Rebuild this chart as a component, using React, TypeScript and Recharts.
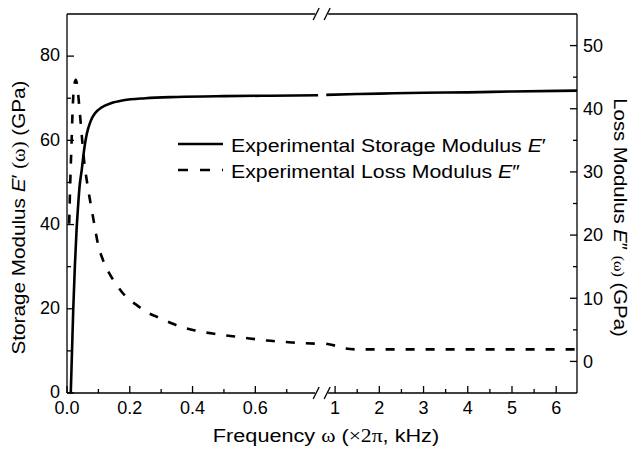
import { CartesianGrid, Customized, Line, LineChart, XAxis, YAxis } from 'recharts'

// Storage modulus E' (left axis, GPa), split at the axis break
const storageLeftFreq = [0.012, 0.016, 0.02, 0.025, 0.03, 0.035, 0.04, 0.047, 0.055, 0.063, 0.075, 0.09, 0.11, 0.14, 0.18, 0.25, 0.35, 0.5, 0.65, 0.8]
const storageLeftValue = [0, 10, 20, 30, 38, 44, 49, 53, 58, 61.5, 64.5, 66.5, 67.8, 68.8, 69.5, 70.0, 70.3, 70.5, 70.6, 70.7]
const storageRightFreq = [0.8, 1.5, 2, 3, 4, 5, 6.47]
const storageRightValue = [70.8, 71.0, 71.1, 71.3, 71.4, 71.6, 71.8]

// Loss modulus E'' (right axis, GPa)
const lossLeftFreq = [0.007, 0.0096, 0.012, 0.0145, 0.017, 0.02, 0.024, 0.028, 0.033, 0.038, 0.046, 0.054, 0.065, 0.077, 0.086, 0.099, 0.115, 0.134, 0.16, 0.185, 0.22, 0.258, 0.3, 0.335, 0.408, 0.48, 0.557, 0.637, 0.717, 0.8]
const lossLeftValue = [21.8, 27, 31, 34.5, 38.5, 42, 44, 44.6, 43.5, 41, 36.4, 32, 28, 24.5, 22, 18.5, 16, 14, 12, 10.4, 9, 7.7, 6.8, 6.0, 4.9, 4.3, 3.8, 3.3, 3.0, 2.8]
const lossRightFreq = [0.8, 1.0, 1.2, 1.5, 2, 3, 4, 5, 6.47]
const lossRightValue = [2.8, 2.5, 2.1, 1.9, 1.9, 1.9, 1.9, 1.9, 1.9]

// Tick values
const freqMajorLeft = [0, 0.2, 0.4, 0.6]
const freqMinorLeft = [0.1, 0.3, 0.5, 0.7]
const freqMajorRight = [1, 2, 3, 4, 5, 6]
const freqMinorRight = [1.5, 2.5, 3.5, 4.5, 5.5]
const storageTicks = [0, 20, 40, 60, 80]
const storageMinor = [10, 30, 50, 70]
const lossTicks = [0, 10, 20, 30, 40, 50]
const lossMinor = [5, 15, 25, 35, 45]

// broken frequency axis: left part linear 0..0.8, right part compressed
const BREAK_FREQ = 0.8
const BREAK_GAP = 0.026
const RIGHT_SCALE = 0.1409
const toAxis = (f: number, side: 'left' | 'right') =>
  side === 'left' ? f : BREAK_FREQ + BREAK_GAP + (f - BREAK_FREQ) * RIGHT_SCALE
const U_MAX = toAxis(6.47, 'right')

const build = (freq: number[], vals: number[], side: 'left' | 'right') =>
  freq.map((f, i) => ({ u: toAxis(f, side), v: vals[i] }))

const storageLeft = build(storageLeftFreq, storageLeftValue, 'left')
const storageRight = build(storageRightFreq, storageRightValue, 'right')
const lossLeft = build(lossLeftFreq, lossLeftValue, 'left')
const lossRight = build(lossRightFreq, lossRightValue, 'right')

const xTicks = [
  ...freqMajorLeft.map(f => ({ u: toAxis(f, 'left'), label: f.toFixed(1), major: true })),
  ...freqMinorLeft.map(f => ({ u: toAxis(f, 'left'), label: '', major: false })),
  ...freqMajorRight.map(f => ({ u: toAxis(f, 'right'), label: String(f), major: true })),
  ...freqMinorRight.map(f => ({ u: toAxis(f, 'right'), label: '', major: false })),
]

const W = 631
const H = 450
const PL = 67
const PR = 577
const PT = 14
const PB = 393
const FONT = "'Liberation Sans', Arial, sans-serif"
const SERIF = "'Liberation Serif', 'Times New Roman', serif"

const XTick = ({ x, y, payload }: any) => {
  const t = xTicks.find(t => Math.abs(t.u - payload.value) < 1e-6)
  if (!t) return null
  return (
    <g>
      <line x1={x} x2={x} y1={y} y2={y - (t.major ? 7 : 4)} stroke="#000" strokeWidth={1.3} />
      {t.major && (
        <text x={x} y={y + 21} textAnchor="middle" fontSize={18} fontFamily={FONT} fill="#000">
          {t.label}
        </text>
      )}
    </g>
  )
}

const LeftTick = ({ x, y, payload }: any) => {
  const major = storageTicks.includes(payload.value)
  return (
    <g>
      <line x1={x} x2={x + (major ? 7 : 4)} y1={y} y2={y} stroke="#000" strokeWidth={1.3} />
      {major && (
        <text x={x - 7} y={y - 1} dy="0.35em" textAnchor="end" fontSize={18} fontFamily={FONT} fill="#000">
          {payload.value}
        </text>
      )}
    </g>
  )
}

const RightTick = ({ x, y, payload }: any) => {
  const major = lossTicks.includes(payload.value)
  return (
    <g>
      <line x1={x} x2={x - (major ? 7 : 4)} y1={y} y2={y} stroke="#000" strokeWidth={1.3} />
      {major && (
        <text x={x + 6} y={y} dy="0.35em" textAnchor="start" fontSize={18} fontFamily={FONT} fill="#000">
          {payload.value}
        </text>
      )}
    </g>
  )
}

// frame with axis break marks, legend and axis titles
const Overlay = () => {
  const c = PL + (BREAK_FREQ + BREAK_GAP / 2) * ((PR - PL) / U_MAX)
  const breakMarks = (y: number) => (
    <g stroke="#000" strokeWidth={1.3}>
      <line x1={PL} x2={c - 7} y1={y} y2={y} />
      <line x1={c + 6} x2={PR} y1={y} y2={y} />
      <line x1={c - 9} y1={y + 6} x2={c - 3} y2={y - 6} />
      <line x1={c + 2} y1={y + 6} x2={c + 8} y2={y - 6} />
    </g>
  )
  return (
    <g>
      {breakMarks(PT)}
      {breakMarks(PB)}
      <line x1={178} x2={223} y1={144} y2={144} stroke="#000" strokeWidth={2.6} />
      <line x1={178} x2={223} y1={170} y2={170} stroke="#000" strokeWidth={2.6} strokeDasharray="10 12" />
      <text transform="translate(231,151.5) scale(1.12,1)" fontSize={19} fontFamily={FONT} fill="#000">
        Experimental Storage Modulus <tspan fontStyle="italic">E</tspan>′
      </text>
      <text transform="translate(231,178) scale(1.12,1)" fontSize={19} fontFamily={FONT} fill="#000">
        Experimental Loss Modulus <tspan fontStyle="italic">E</tspan>″
      </text>
      <text transform="translate(326,442) scale(1.14,1)" textAnchor="middle" fontSize={19} fontFamily={FONT} fill="#000">
        Frequency <tspan fontFamily={SERIF}>ω</tspan> (<tspan fontFamily={SERIF}>×2π</tspan>, kHz)
      </text>
      <text transform="translate(25,217.5) rotate(-90) scale(1.09,1)" textAnchor="middle" fontSize={19} fontFamily={FONT} fill="#000">
        Storage Modulus <tspan fontStyle="italic">E</tspan>′ <tspan fontFamily={SERIF}>(ω)</tspan> (GPa)
      </text>
      <text transform="translate(614,217.5) rotate(90) scale(1.07,1)" textAnchor="middle" fontSize={19} fontFamily={FONT} fill="#000">
        Loss Modulus <tspan fontStyle="italic">E</tspan>″ <tspan fontFamily={SERIF} fontSize={15}>(ω)</tspan> (GPa)
      </text>
    </g>
  )
}

export default function App() {
  return (
    <div style={{ position: 'absolute', left: 0, top: 0, width: W, height: H, background: '#fff' }}>
      <LineChart width={W} height={H} margin={{ top: PT, right: 0, bottom: 0, left: 0 }}>
        <CartesianGrid stroke="none" />
        <XAxis
          type="number"
          dataKey="u"
          domain={[0, U_MAX]}
          allowDataOverflow
          ticks={xTicks.map(t => t.u)}
          interval={0}
          height={H - PB}
          axisLine={false}
          tickLine={false}
          tickSize={0}
          tickMargin={0}
          tick={<XTick />}
        />
        <YAxis
          yAxisId="left"
          type="number"
          domain={[0, 90]}
          ticks={[...storageTicks, ...storageMinor]}
          interval={0}
          width={PL}
          axisLine={{ stroke: '#000', strokeWidth: 1.3 }}
          tickLine={false}
          tickSize={0}
          tickMargin={0}
          tick={<LeftTick />}
        />
        <YAxis
          yAxisId="right"
          orientation="right"
          type="number"
          domain={[-5, 55]}
          ticks={[...lossTicks, ...lossMinor]}
          interval={0}
          width={W - PR}
          axisLine={{ stroke: '#000', strokeWidth: 1.3 }}
          tickLine={false}
          tickSize={0}
          tickMargin={0}
          tick={<RightTick />}
        />
        <Line yAxisId="left" data={storageLeft} dataKey="v" type="monotone" stroke="#000" strokeWidth={2.6} dot={false} isAnimationActive={false} />
        <Line yAxisId="left" data={storageRight} dataKey="v" type="monotone" stroke="#000" strokeWidth={2.6} dot={false} isAnimationActive={false} />
        <Line yAxisId="right" data={lossLeft} dataKey="v" type="monotone" stroke="#000" strokeWidth={2.6} strokeDasharray="9 11" dot={false} isAnimationActive={false} />
        <Line yAxisId="right" data={lossRight} dataKey="v" type="monotone" stroke="#000" strokeWidth={2.6} strokeDasharray="9 11" dot={false} isAnimationActive={false} />
        <Customized component={Overlay} />
      </LineChart>
    </div>
  )
}
